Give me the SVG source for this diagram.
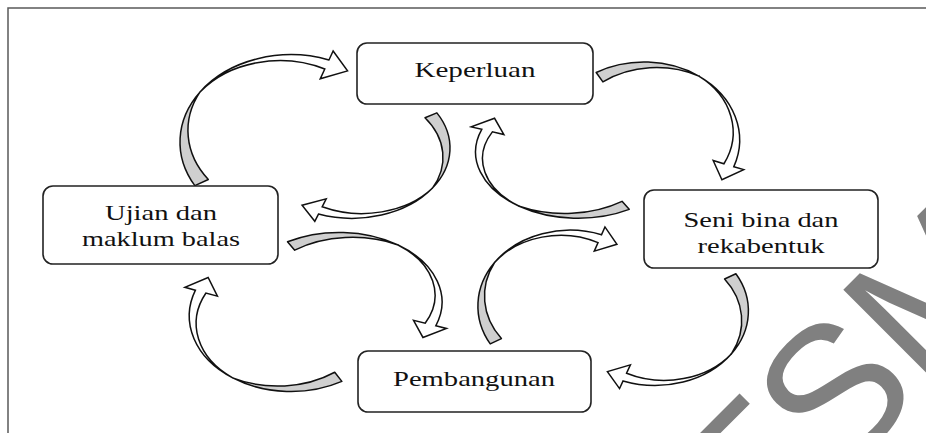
<svg xmlns="http://www.w3.org/2000/svg" width="926" height="433" viewBox="0 0 926 433">
<style>
.frame{fill:none;stroke:#5a5a5a;stroke-width:1.5}
.box{fill:#fff;stroke:#222;stroke-width:1.6}
.lbl{font-family:"Liberation Serif","Times New Roman",serif;font-size:21px;fill:#111;text-anchor:middle}
.back{fill:#cfcfcf;stroke:#111;stroke-width:1.5;stroke-linejoin:round;vector-effect:non-scaling-stroke}
.front{fill:#fff;stroke:#111;stroke-width:1.5;stroke-linejoin:miter;vector-effect:non-scaling-stroke}
.wm{font-family:"Liberation Sans",Arial,sans-serif;font-size:190px;fill:#808080}
</style>
<defs>
<g id="carrow">
<path class="front" d="M -81.92 -57.36 A 100 100 0 0 1 34.20 -93.97 L 37.96 -104.31 L 50.95 -81.49 L 26.34 -72.36 L 30.44 -83.63 A 90 90 0 0 0 -81.92 -57.36 Z"/>
<path class="back" d="M -86.60 50.00 A 100 100 0 0 1 -81.92 -57.36 A 95 95 0 0 0 -74.48 43.00 Z"/>
</g>
</defs>
<rect width="926" height="433" fill="#fff"/>
<rect class="frame" x="8" y="8" width="940" height="450"/>
<g id="connectors">
<use href="#carrow" transform="translate(291 142) scale(1.11 0.873)"/>
<use href="#carrow" transform="translate(644 140) scale(0.956 0.78) rotate(90)"/>
<use href="#carrow" transform="translate(655 311) scale(0.934 0.744) rotate(180)"/>
<use href="#carrow" transform="translate(291 316) scale(1.017 0.755) rotate(270)"/>
<use href="#carrow" transform="translate(352 148) scale(0.98 0.703) rotate(180)"/>
<use href="#carrow" transform="translate(339 302) scale(1.03 0.696) rotate(90)"/>
<use href="#carrow" transform="translate(570 306) scale(0.921 0.758)"/>
<use href="#carrow" transform="translate(578 152) scale(1.024 0.662) rotate(270)"/>
</g>
<g id="keperluan">
<rect class="box" x="357" y="43" width="236" height="61" rx="10"/>
<text class="lbl" x="475" y="77" textLength="121" lengthAdjust="spacingAndGlyphs">Keperluan</text>
</g>
<g id="ujian">
<rect class="box" x="43" y="186" width="235" height="78" rx="10"/>
<text class="lbl" x="161" y="220" textLength="112" lengthAdjust="spacingAndGlyphs">Ujian dan</text>
<text class="lbl" x="161" y="246" textLength="158" lengthAdjust="spacingAndGlyphs">maklum balas</text>
</g>
<g id="senibina">
<rect class="box" x="644" y="190" width="234" height="78" rx="10"/>
<text class="lbl" x="761" y="227" textLength="155" lengthAdjust="spacingAndGlyphs">Seni bina dan</text>
<text class="lbl" x="761" y="253" textLength="127" lengthAdjust="spacingAndGlyphs">rekabentuk</text>
</g>
<g id="pembangunan">
<rect class="box" x="358" y="351" width="233" height="61" rx="10"/>
<text class="lbl" x="474" y="386" textLength="162" lengthAdjust="spacingAndGlyphs">Pembangunan</text>
</g>
<text class="wm" transform="translate(671 647) rotate(-45)">FTSM</text>
</svg>
